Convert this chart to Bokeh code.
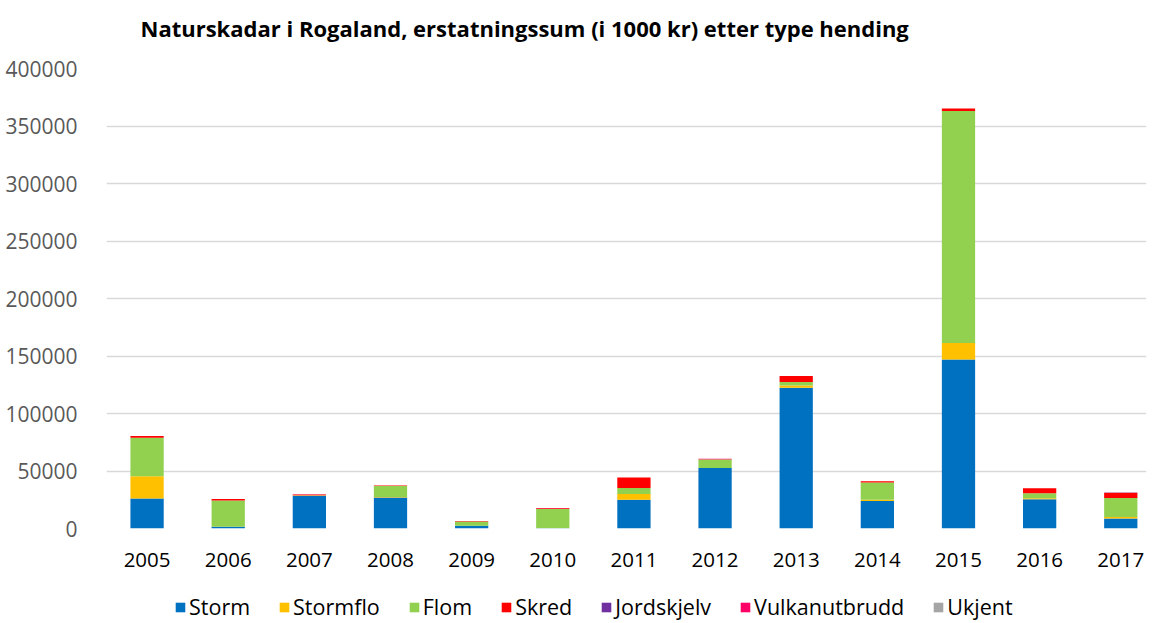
from bokeh.plotting import figure
from bokeh.models import Range1d, FixedTicker, BasicTickFormatter, Legend, LegendItem, Label
from bokeh.layouts import column
from bokeh.embed import file_html
from bokeh.resources import INLINE

years = [2005, 2006, 2007, 2008, 2009, 2010, 2011, 2012, 2013, 2014, 2015, 2016, 2017]
storm = [26000, 1500, 28500, 27000, 2300, 300, 24900, 52700, 122300, 24000, 147000, 25500, 8700]
stormflo = [19500, 0, 500, 500, 0, 0, 5200, 0, 2000, 900, 14400, 800, 1400]
flom = [33500, 22800, 0, 9500, 3800, 16700, 5200, 7300, 3200, 15100, 201700, 4400, 16500]
skred = [1500, 1400, 500, 500, 400, 600, 9000, 300, 5200, 1100, 2100, 4300, 4400]
jordskjelv = [0, 0, 0, 0, 0, 0, 0, 0, 0, 0, 0, 0, 400]
vulkanutbrudd = [0, 0, 300, 0, 0, 300, 0, 400, 0, 0, 0, 0, 0]
ukjent = [0, 0, 0, 0, 0, 0, 0, 0, 0, 0, 0, 0, 0]

series = ["Storm", "Stormflo", "Flom", "Skred", "Jordskjelv", "Vulkanutbrudd", "Ukjent"]
colors = ["#0070C0", "#FFC000", "#92D050", "#FF0000", "#7030A0", "#FF0066", "#A5A5A5"]
y_ticks = [0, 50000, 100000, 150000, 200000, 250000, 300000, 350000, 400000]
title_text = "Naturskadar i Rogaland, erstatningssum (i 1000 kr) etter type hending"

data = dict(year=years, Storm=storm, Stormflo=stormflo, Flom=flom, Skred=skred,
            Jordskjelv=jordskjelv, Vulkanutbrudd=vulkanutbrudd, Ukjent=ukjent)


def strip(height):
    f = figure(width=1150, height=height, output_backend="svg", toolbar_location=None,
               x_range=Range1d(0, 1), y_range=Range1d(0, 1),
               x_axis_location=None, y_axis_location=None,
               min_border_left=0, min_border_right=0, min_border_top=0, min_border_bottom=0)
    f.xgrid.grid_line_color = None
    f.ygrid.grid_line_color = None
    f.outline_line_color = None
    f.border_fill_color = "white"
    f.background_fill_color = "white"
    return f


# title strip
tf = strip(54)
tf.add_layout(Label(x=34, y=27, x_units="screen", y_units="screen", text=title_text,
                    text_font="Open Sans", text_font_style="bold", text_font_size="22px",
                    text_color="#000000", text_baseline="alphabetic", text_align="left"))

# main chart
p = figure(width=1150, height=531, output_backend="svg", toolbar_location=None,
           x_range=Range1d(2004.5, 2017.317), y_range=Range1d(0, 400000),
           min_border_left=106, min_border_right=4, min_border_top=14, min_border_bottom=57)

renderers = p.vbar_stack(series, x="year", width=0.41, color=colors, line_color=None, source=data)

p.outline_line_color = None
p.background_fill_color = "white"
p.border_fill_color = "white"

p.xgrid.grid_line_color = None
p.ygrid.grid_line_color = "#D9D9D9"
p.ygrid.grid_line_width = 1.5
p.ygrid.ticker = FixedTicker(ticks=y_ticks)

p.yaxis.ticker = FixedTicker(ticks=y_ticks)
p.yaxis.formatter = BasicTickFormatter(use_scientific=False)
p.yaxis.axis_line_color = None
p.yaxis.major_tick_line_color = None
p.yaxis.minor_tick_line_color = None
p.yaxis.major_label_text_font = "Open Sans"
p.yaxis.major_label_text_font_size = "21px"
p.yaxis.major_label_text_color = "#595959"
p.yaxis.major_label_standoff = 23

p.xaxis.ticker = FixedTicker(ticks=years)
p.xaxis.formatter = BasicTickFormatter(use_scientific=False)
p.xaxis.axis_line_color = None
p.xaxis.major_tick_line_color = None
p.xaxis.minor_tick_line_color = None
p.xaxis.major_label_text_font = "Open Sans"
p.xaxis.major_label_text_font_size = "20.5px"
p.xaxis.major_label_text_color = "#000000"
p.xaxis.major_label_standoff = 18

# legend strip below the chart
lf = strip(37)
legend_renderers = [lf.vbar(x=[-5], top=[0], width=0.1, fill_color=c, line_color=None)
                    for c in colors]
items = [LegendItem(label=s, renderers=[r]) for s, r in zip(series, legend_renderers)]
legend = Legend(items=items, orientation="horizontal", location=(68, 1),
                label_text_font="Open Sans", label_text_font_size="21.5px",
                label_text_color="#000000", glyph_width=12, glyph_height=12,
                label_height=18, label_standoff=3, spacing=28, padding=0, margin=0,
                border_line_color=None, background_fill_alpha=0)
lf.add_layout(legend, "center")

layout = column(tf, p, lf, spacing=0)
open("out.html", "w").write(file_html(layout, INLINE))
